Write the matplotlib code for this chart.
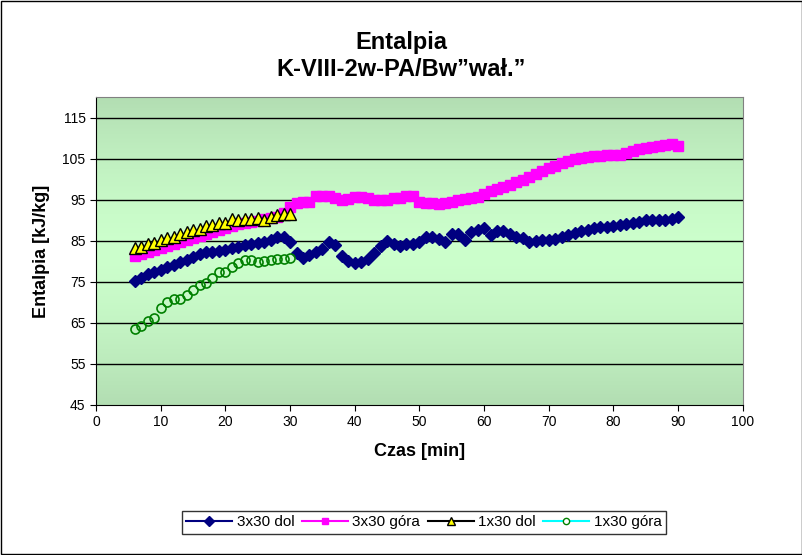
import numpy as np
import matplotlib
matplotlib.use('Agg')
import matplotlib.pyplot as plt
from matplotlib.lines import Line2D

plt.rcParams['font.family'] = ['Liberation Sans', 'DejaVu Sans']

# czas [min]
czas_3x30 = list(range(6, 91))
czas_1x30 = list(range(6, 31))

dol_3x30 = [75.3, 76.0, 76.8, 77.5, 77.9, 78.5, 79.1, 79.7, 80.4, 81.1,
            81.7, 82.2, 82.3, 82.5, 82.8, 83.2, 83.5, 83.9, 84.2, 84.5,
            84.8, 85.3, 86.0, 86.0, 84.8, 82.0, 80.9, 81.6, 82.3, 83.0,
            84.6, 83.9, 81.4, 80.0, 79.5, 79.7, 80.5, 82.1, 83.8, 85.0,
            84.3, 83.7, 84.3, 84.3, 84.8, 85.8, 85.8, 85.4, 84.8, 86.7,
            86.7, 85.3, 87.1, 87.5, 88.1, 86.3, 87.3, 87.3, 86.6, 86.0,
            85.6, 84.8, 85.0, 85.2, 85.3, 85.5, 85.8, 86.4, 86.9, 87.3,
            87.7, 88.1, 88.3, 88.4, 88.6, 88.9, 89.1, 89.3, 89.5, 90.0,
            90.1, 90.0, 90.1, 90.3, 90.7]

gora_3x30 = [81.2, 81.8, 82.3, 82.8, 83.2, 83.7, 84.2, 84.8, 85.3, 85.7,
             86.2, 86.7, 87.2, 87.6, 88.0, 88.5, 89.0, 89.3, 89.6, 89.9,
             90.2, 90.5, 90.9, 91.8, 93.2, 94.3, 94.4, 94.5, 95.9, 96.0,
             95.8, 95.4, 95.0, 95.2, 95.6, 95.7, 95.3, 95.0, 94.8, 95.0,
             95.3, 95.5, 95.8, 96.0, 94.5, 94.3, 94.1, 94.0, 94.2, 94.5,
             94.8, 95.2, 95.3, 95.7, 96.3, 97.0, 97.6, 98.1, 98.6, 99.4,
             99.9, 100.5, 101.2, 101.9, 102.6, 103.3, 103.9, 104.4, 104.8, 105.2,
             105.5, 105.6, 105.7, 106.0, 106.0, 105.8, 106.3, 106.8, 107.3, 107.7,
             107.9, 108.0, 108.3, 108.5, 108.0]

dol_1x30 = [83.2, 83.5, 84.3, 84.5, 85.2, 85.7, 86.0, 86.7, 87.1, 87.5,
            87.8, 88.7, 88.8, 89.3, 89.4, 90.2, 90.1, 90.3, 90.3, 90.5,
            90.1, 90.7, 91.3, 91.6, 91.6]

gora_1x30 = [63.6, 64.3, 65.4, 66.3, 68.5, 70.0, 70.9, 70.9, 71.7, 73.1,
             74.2, 74.8, 76.0, 77.4, 77.4, 78.7, 79.5, 80.2, 80.2, 79.8,
             80.1, 80.2, 80.5, 80.5, 80.9]

fig = plt.figure(figsize=(8.03, 5.55), dpi=100)
ax = fig.add_axes([0.1196, 0.2703, 0.8054, 0.5549])

# gradient tla
grad = np.abs(np.linspace(-1, 1, 200)).reshape(-1, 1) ** 1.5
c_mid = np.array([0.80, 1.0, 0.80])
c_edge = np.array([0.70, 0.87, 0.70])
img = c_mid + (c_edge - c_mid) * grad[:, :, None]
ax.imshow(img, extent=[0, 100, 45, 120], aspect='auto', zorder=0)

for y in range(55, 120, 10):
    ax.axhline(y, color='black', lw=1, zorder=1)

ax.plot(czas_3x30, dol_3x30, ls='none', marker='D', ms=6, color='#000080', zorder=3)
ax.plot(czas_3x30, gora_3x30, ls='none', marker='s', ms=7, color='#ff00ff', zorder=2)
ax.plot(czas_1x30, dol_1x30, ls='none', marker='^', ms=8.5, mfc='#ffff00', mec='black', mew=1, zorder=4)
ax.plot(czas_1x30, gora_1x30, ls='none', marker='o', ms=6.5, mfc='none', mec='#008000', mew=1.2, zorder=4)

ax.set_xlim(0, 100)
ax.set_ylim(45, 120)
ax.set_xticks(range(0, 101, 10))
ax.set_yticks(range(45, 116, 10))
ax.tick_params(labelsize=10, direction='out', length=4)
for s in ax.spines.values():
    s.set_color('#808080')
ax.spines['left'].set_color('black')
ax.spines['bottom'].set_color('black')

ax.set_xlabel('Czas [min]', fontsize=13, fontweight='bold', labelpad=10)
ax.set_ylabel('Entalpia [kJ/kg]', fontsize=13, fontweight='bold', labelpad=9)
fig.text(0.5, 0.924, 'Entalpia', ha='center', va='center', fontsize=17, fontweight='bold')
fig.text(0.5, 0.874, 'K-VIII-2w-PA/Bw\u201dwa\u0142.\u201d', ha='center', va='center', fontsize=17, fontweight='bold')

handles = [
    Line2D([], [], color='#000080', marker='D', ms=5, label='3x30 dol'),
    Line2D([], [], color='#ff00ff', marker='s', ms=5, label='3x30 góra'),
    Line2D([], [], color='black', marker='^', ms=5.5, mfc='#ffff00', mec='black', label='1x30 dol'),
    Line2D([], [], color='#00ffff', marker='o', ms=4.5, mfc='white', mec='#008000', label='1x30 góra'),
]
leg = fig.legend(handles=handles, loc='center', bbox_to_anchor=(0.528, 0.059), ncol=4,
                 fontsize=11, frameon=True, fancybox=False, edgecolor='black',
                 handlelength=3.0, handletextpad=0.3, columnspacing=0.5, borderpad=0.3)
leg.get_frame().set_linewidth(1)

fig.patches.append(plt.Rectangle((0.001, 0.001), 0.998, 0.997, transform=fig.transFigure,
                                 fill=False, edgecolor='black', lw=1))

fig.savefig('out.png', dpi=100)
